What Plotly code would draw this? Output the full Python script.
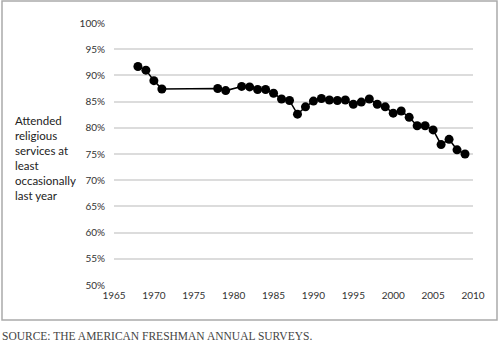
import plotly.graph_objects as go

years = [1968, 1969, 1970, 1971, 1978, 1979, 1981, 1982, 1983, 1984, 1985, 1986,
         1987, 1988, 1989, 1990, 1991, 1992, 1993, 1994, 1995, 1996, 1997, 1998,
         1999, 2000, 2001, 2002, 2003, 2004, 2005, 2006, 2007, 2008, 2009]
attended = [91.7, 91.0, 89.0, 87.4, 87.5, 87.1, 87.9, 87.8, 87.3, 87.3, 86.6, 85.5,
            85.2, 82.6, 84.0, 85.1, 85.6, 85.3, 85.2, 85.3, 84.5, 84.9, 85.5, 84.5,
            84.0, 82.8, 83.2, 82.0, 80.4, 80.4, 79.6, 76.8, 77.8, 75.8, 75.0]
x_ticks = [1965, 1970, 1975, 1980, 1985, 1990, 1995, 2000, 2005, 2010]
y_ticks = [50, 55, 60, 65, 70, 75, 80, 85, 90, 95, 100]
y_title = "Attended<br>religious<br>services at<br>least<br>occasionally<br>last year"
source = "SOURCE: THE AMERICAN FRESHMAN ANNUAL SURVEYS."

W, H = 500, 342
L, R, T, B = 114, 27, 23, 57
pw, ph = W - L - R, H - T - B

def px_x(p):
    return (p - L) / pw

def px_y(p):
    return (H - B - p) / ph

fig = go.Figure()
fig.add_trace(go.Scatter(
    x=years, y=attended, mode="lines+markers",
    line=dict(color="black", width=1.5),
    marker=dict(color="black", size=9),
    showlegend=False, hoverinfo="skip"))

font = "Lato, 'Open Sans', sans-serif"
fig.update_layout(
    width=W, height=H,
    margin=dict(l=L, r=R, t=T, b=B),
    paper_bgcolor="white", plot_bgcolor="white",
    xaxis=dict(range=[1965, 2010], tickvals=x_ticks, ticktext=[str(v) for v in x_ticks],
               showgrid=False, zeroline=False, showline=False, ticks="",
               tickfont=dict(family=font, size=10, color="#333"), ticklabelstandoff=3),
    yaxis=dict(range=[50, 100], tickvals=y_ticks, ticktext=[f"{v}%" for v in y_ticks],
               showgrid=True, gridcolor="#dcdcdc", gridwidth=1.5, zeroline=False,
               showline=False, ticks="", ticklabelstandoff=8,
               tickfont=dict(family=font, size=10, color="#333")),
    shapes=[dict(type="rect", xref="paper", yref="paper",
                 x0=px_x(2), x1=px_x(497), y0=px_y(320), y1=px_y(1),
                 line=dict(color="#aaaaaa", width=1.5), fillcolor="rgba(0,0,0,0)", layer="below")],
    annotations=[
        dict(text=y_title, xref="paper", yref="paper", x=px_x(13), y=px_y(112),
             xanchor="left", yanchor="top", align="left", showarrow=False,
             font=dict(family=font, size=11.5, color="#222")),
        dict(text=source, xref="paper", yref="paper", x=px_x(0), y=px_y(344),
             xanchor="left", yanchor="bottom", align="left", showarrow=False,
             font=dict(family="'Liberation Serif', serif", size=11.5, color="#444")),
    ],
)
fig.write_html("out.html")
